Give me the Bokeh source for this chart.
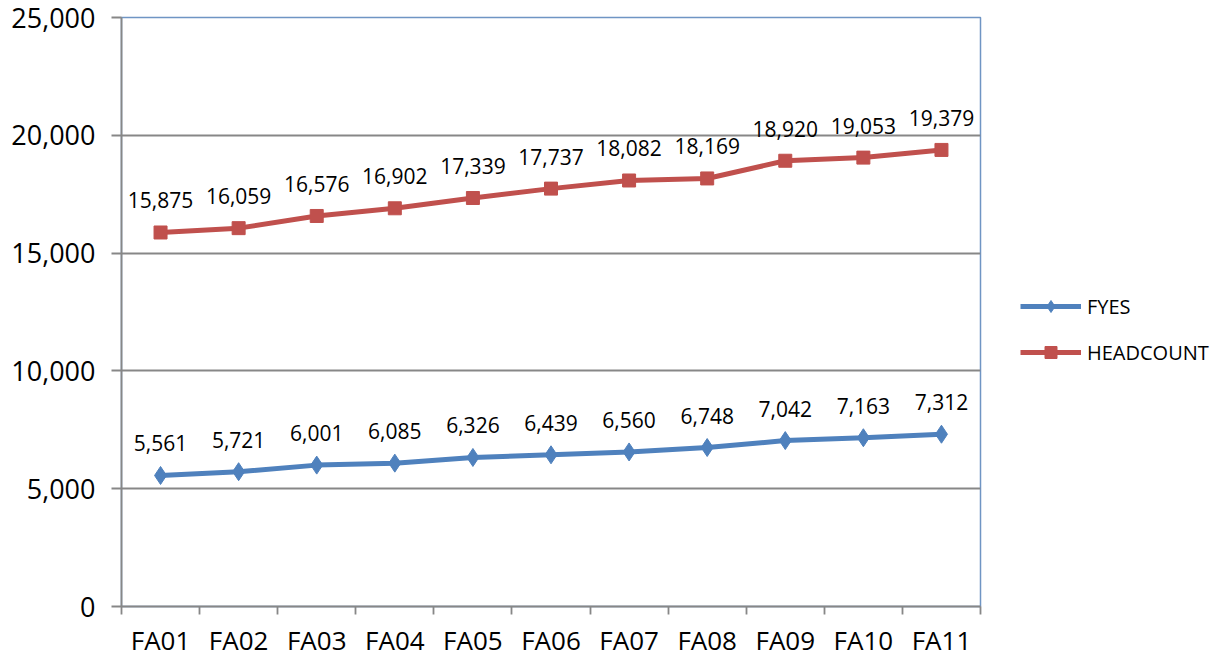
from bokeh.plotting import figure
from bokeh.models import (ColumnDataSource, FixedTicker, NumeralTickFormatter,
                          Legend, LegendItem, Range1d)
from bokeh.core.properties import value
from bokeh.embed import file_html
from bokeh.resources import INLINE

categories = ["FA01", "FA02", "FA03", "FA04", "FA05", "FA06", "FA07", "FA08", "FA09", "FA10", "FA11"]
fyes = [5561, 5721, 6001, 6085, 6326, 6439, 6560, 6748, 7042, 7163, 7312]
headcount = [15875, 16059, 16576, 16902, 17339, 17737, 18082, 18169, 18920, 19053, 19379]
y_ticks = [0, 5000, 10000, 15000, 20000, 25000]

FONT = "Open Sans"
BLUE = "#4F81BD"
RED = "#C0504D"
GRAY = "#878787"

xpos = [i + 1 for i in range(len(categories))]
src = ColumnDataSource(dict(
    x=xpos, cat=categories, fyes=fyes, head=headcount,
    fyes_lbl=[f"{v:,}" for v in fyes], head_lbl=[f"{v:,}" for v in headcount],
))

p = figure(frame_width=859, frame_height=589,
           min_border_left=121, min_border_right=232, min_border_top=17, min_border_bottom=40,
           x_range=Range1d(0.5, len(categories) + 0.5), y_range=Range1d(0, 25000),
           output_backend="svg", toolbar_location=None, tools="")

p.outline_line_color = "#6F95C4"
p.outline_line_width = 1.5
p.background_fill_color = "white"
p.border_fill_color = "white"

# grid
p.xgrid.visible = False
p.ygrid.ticker = FixedTicker(ticks=y_ticks[1:-1])
p.ygrid.grid_line_color = GRAY
p.ygrid.grid_line_width = 1.8

# y axis
p.yaxis.ticker = FixedTicker(ticks=y_ticks)
p.yaxis.formatter = NumeralTickFormatter(format="0,0")
p.yaxis.axis_line_color = GRAY
p.yaxis.axis_line_width = 1.8
p.yaxis.major_tick_line_color = GRAY
p.yaxis.major_tick_line_width = 1.8
p.yaxis.major_tick_in = 0
p.yaxis.major_tick_out = 10
p.yaxis.minor_tick_line_color = None
p.yaxis.major_label_text_font = FONT
p.yaxis.major_label_text_font_size = "27px"
p.yaxis.major_label_text_color = "black"
p.yaxis.major_label_standoff = 16

# x axis: labels at centers, ticks at category boundaries
p.xaxis.ticker = FixedTicker(ticks=xpos, minor_ticks=[x - 0.5 for x in xpos] + [xpos[-1] + 0.5])
p.xaxis.major_label_overrides = {x: c for x, c in zip(xpos, categories)}
p.xaxis.axis_line_color = GRAY
p.xaxis.axis_line_width = 1.8
p.xaxis.major_tick_line_color = None
p.xaxis.major_tick_in = 0
p.xaxis.major_tick_out = 8
p.xaxis.minor_tick_line_color = GRAY
p.xaxis.minor_tick_line_width = 1.8
p.xaxis.minor_tick_in = 0
p.xaxis.minor_tick_out = 8
p.xaxis.major_label_text_font = FONT
p.xaxis.major_label_text_font_size = "26px"
p.xaxis.major_label_text_color = "black"
p.xaxis.major_label_standoff = 7

# series
l1 = p.line("x", "fyes", source=src, line_color=BLUE, line_width=5)
m1 = p.scatter("x", "fyes", source=src, marker="diamond", size=18, fill_color=BLUE, line_color=BLUE)
l2 = p.line("x", "head", source=src, line_color=RED, line_width=5)
m2 = p.scatter("x", "head", source=src, marker="square", size=13, fill_color=RED, line_color=RED)

# data labels
for col in ("fyes", "head"):
    p.text("x", col, text=col + "_lbl", source=src, text_font=value(FONT),
           text_font_size="21px", text_color="black", text_align="center",
           text_baseline="middle", y_offset=-32)

legend = Legend(items=[LegendItem(label="FYES", renderers=[l1, m1]),
                       LegendItem(label="HEADCOUNT", renderers=[l2, m2])],
                location=(40, 239), orientation="vertical")
legend.border_line_color = None
legend.background_fill_alpha = 0
legend.padding = 0
legend.margin = 0
legend.spacing = 16
legend.glyph_width = 61
legend.glyph_height = 30
legend.label_height = 30
legend.label_standoff = 6
legend.label_text_font = FONT
legend.label_text_font_size = "20px"
legend.label_text_color = "black"
p.add_layout(legend, "right")

open("out.html", "w").write(file_html(p, INLINE))
